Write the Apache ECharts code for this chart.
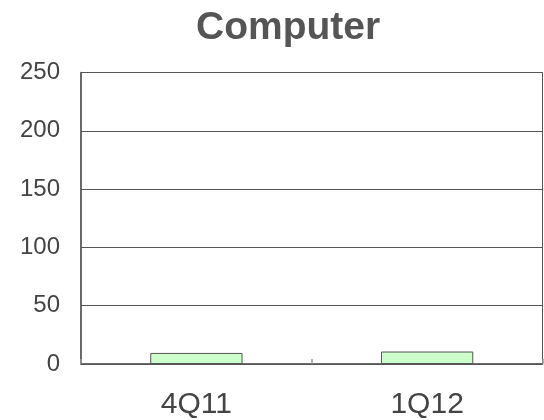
<!DOCTYPE html>
<html>
<head>
<meta charset="utf-8">
<script src="https://cdn.jsdelivr.net/npm/echarts@6/dist/echarts.min.js"></script>
<style>html,body{margin:0;padding:0;background:#fff}#c{width:544px;height:420px}</style>
</head>
<body>
<div id="c"></div>
<script>
const categories = ['4Q11', '1Q12'];
const values = [9.5, 10.7];
const yMin = 0, yMax = 250, yInterval = 50;

const chart = echarts.init(document.getElementById('c'), null, {renderer: 'canvas'});
chart.setOption({
  animation: false,
  backgroundColor: '#ffffff',
  title: {
    text: 'Computer',
    left: 191,
    top: 4,
    textStyle: {fontFamily: 'Liberation Sans, Arial, sans-serif', fontWeight: 'bold', fontSize: 39, color: '#555555'}
  },
  grid: {left: 81, right: 1.5, top: 72.5, bottom: 54.5, show: true, borderColor: '#555555', borderWidth: 1, containLabel: false},
  xAxis: {
    type: 'category',
    data: categories,
    boundaryGap: true,
    axisLine: {show: true, lineStyle: {color: '#555555', width: 1.5}},
    axisTick: {show: true, inside: true, length: 5, lineStyle: {color: '#999999', width: 1.5}},
    axisLabel: {fontFamily: 'Liberation Sans, Arial, sans-serif', fontSize: 30, color: '#444444', margin: 26}
  },
  yAxis: {
    type: 'value',
    min: yMin, max: yMax, interval: yInterval,
    axisLine: {show: true, lineStyle: {color: '#555555', width: 1.5}},
    axisTick: {show: false},
    splitLine: {show: true, lineStyle: {color: '#555555', width: 1}},
    axisLabel: {fontFamily: 'Liberation Sans, Arial, sans-serif', fontSize: 24, color: '#444444', margin: 21}
  },
  series: [{
    type: 'bar',
    data: values,
    barWidth: '40%',
    itemStyle: {color: '#ccffcc', borderColor: '#555555', borderWidth: 1}
  }]
});
</script>
</body>
</html>
